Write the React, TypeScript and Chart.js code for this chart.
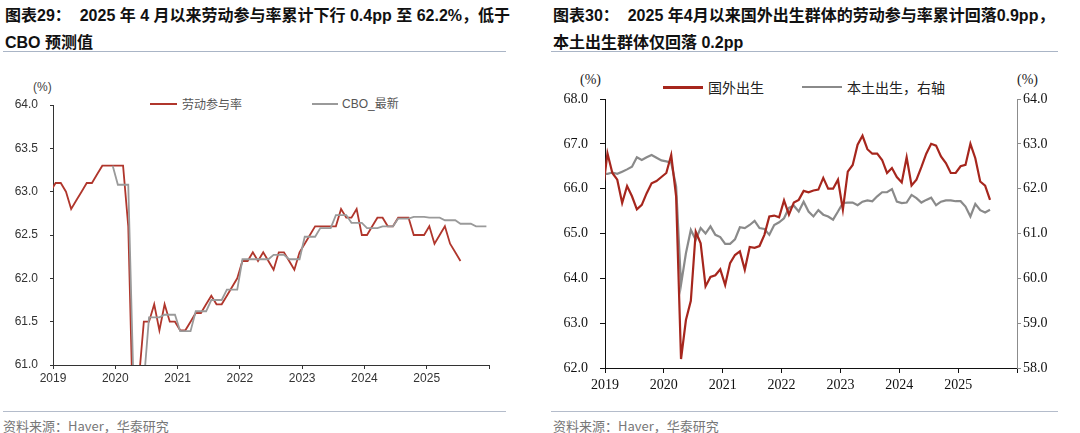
import React, { useEffect, useRef } from "react";
import { Chart, registerables } from "chart.js";

Chart.register(...registerables);

// ---------- Left chart data (图表29) ----------
const lfprStart = "2018-12";
const lfpr = [
  63.0,
  63.1, 63.1, 63.0, 62.8, 62.9, 63.0, 63.1, 63.1, 63.2, 63.3, 63.3, 63.3,
  63.3, 63.3, 62.6, 60.2, 60.8, 61.5, 61.5, 61.7, 61.4, 61.7, 61.5, 61.5,
  61.4, 61.4, 61.5, 61.6, 61.6, 61.7, 61.8, 61.7, 61.7, 61.8, 61.9, 62.0,
  62.2, 62.2, 62.3, 62.2, 62.3, 62.2, 62.1, 62.3, 62.3, 62.2, 62.1, 62.3,
  62.4, 62.5, 62.6, 62.6, 62.6, 62.6, 62.6, 62.8, 62.7, 62.7, 62.8, 62.5,
  62.5, 62.6, 62.7, 62.7, 62.6, 62.6, 62.7, 62.7, 62.7, 62.5, 62.5, 62.5,
  62.6, 62.4, 62.5, 62.6, 62.4, 62.3, 62.2,
];
const cboStart = "2019-12";
const cbo = [
  63.3,
  63.08, 63.08, 63.08, 60.8, 60.8, 60.8, 61.55, 61.55, 61.55, 61.58, 61.58, 61.58,
  61.39, 61.39, 61.39, 61.62, 61.62, 61.62, 61.75, 61.75, 61.75, 61.87, 61.87, 61.87,
  62.22, 62.22, 62.22, 62.22, 62.22, 62.22, 62.27, 62.27, 62.27, 62.22, 62.22, 62.22,
  62.48, 62.48, 62.48, 62.58, 62.58, 62.58, 62.73, 62.73, 62.73, 62.64, 62.64, 62.64,
  62.58, 62.58, 62.58, 62.6, 62.6, 62.6, 62.69, 62.69, 62.69, 62.71, 62.71, 62.71,
  62.7, 62.7, 62.7, 62.67, 62.67, 62.67, 62.63, 62.63, 62.63, 62.6, 62.6, 62.6,
];
const leftYTicks = { min: 61, max: 64, step: 0.5 };

// ---------- Right chart data (图表30) ----------
const bornStart = "2018-12";
const foreignBorn = [
  65.9,
  66.79, 66.35, 66.2, 65.68, 66.06, 65.83, 65.54, 65.64, 65.9, 66.12, 66.17, 66.26,
  66.35, 66.75, 65.83, 62.2, 63.07, 63.5, 65.04, 64.78, 63.82, 64.03, 64.07, 64.2,
  63.85, 64.34, 64.52, 64.6, 64.19, 64.7, 64.68, 64.72, 64.97, 65.38, 65.4, 65.36,
  65.74, 65.42, 65.69, 65.75, 65.95, 65.92, 65.96, 65.98, 66.24, 66.0, 66.0, 66.2,
  65.53, 66.38, 66.53, 66.98, 67.18, 66.88, 66.78, 66.78, 66.64, 66.35, 66.46, 66.26,
  66.14, 66.7, 66.07, 66.2, 66.48, 66.78, 67.0, 66.96, 66.72, 66.57, 66.35, 66.35,
  66.5, 66.53, 67.0, 66.68, 66.16, 66.07, 65.75,
];
const nativeBorn = [
  62.33,
  62.33, 62.36, 62.33, 62.38, 62.43, 62.49, 62.7, 62.64, 62.7, 62.75, 62.69, 62.63,
  62.61, 62.58, 62.05, 59.86, 60.56, 61.08, 60.86, 61.12, 61.0, 61.16, 60.97, 60.92,
  60.77, 60.77, 60.87, 61.14, 61.12, 61.19, 61.28, 61.12, 61.1, 60.97, 61.19, 61.25,
  61.34, 61.57, 61.62, 61.49, 61.71, 61.49, 61.38, 61.52, 61.42, 61.38, 61.31, 61.49,
  61.68, 61.69, 61.69, 61.63, 61.71, 61.74, 61.72, 61.83, 61.92, 61.92, 61.99, 61.71,
  61.68, 61.69, 61.86, 61.79, 61.69, 61.75, 61.8, 61.63, 61.71, 61.74, 61.74, 61.72,
  61.72, 61.6, 61.38, 61.66, 61.52, 61.47, 61.53,
];
const rightYLeft = { min: 62, max: 68, step: 1 };
const rightYRight = { min: 58, max: 64, step: 1 };

const xRange = { min: 2019, max: 2026 };

// ---------- helpers ----------
function monthsFrom(start: string, n: number): string[] {
  const [y0, m0] = start.split("-").map(Number);
  const base = y0 * 12 + (m0 - 1);
  return Array.from({ length: n }, (_, k) => {
    const t = base + k;
    return `${Math.floor(t / 12)}-${String((t % 12) + 1).padStart(2, "0")}`;
  });
}
function toX(ym: string): number {
  const [y, m] = ym.split("-").map(Number);
  return y + (m - 0.5) / 12;
}
function series(start: string, values: number[]) {
  const months = monthsFrom(start, values.length);
  return values.map((v, k) => ({ x: toX(months[k]), y: v }));
}

const RED_L = "#b0362c";
const GRAY_L = "#9a9a9a";
const RED_R = "#a6261d";
const GRAY_R = "#8a8a8a";

function leftConfig(): any {
  const sans = "'Liberation Sans', Arial, sans-serif";
  return {
    type: "line",
    data: {
      datasets: [
        {
          label: "劳动参与率",
          data: series(lfprStart, lfpr),
          borderColor: RED_L,
          borderWidth: 1.8,
          pointRadius: 0,
          tension: 0,
          order: 1,
        },
        {
          label: "CBO_最新",
          data: series(cboStart, cbo),
          borderColor: GRAY_L,
          borderWidth: 1.8,
          pointRadius: 0,
          tension: 0,
          order: 0,
        },
      ],
    },
    options: {
      responsive: false,
      animation: false,
      layout: { padding: { top: 45, right: 51, left: 0, bottom: 0 } },
      plugins: { legend: { display: false }, tooltip: { enabled: false } },
      scales: {
        x: {
          type: "linear",
          min: xRange.min,
          max: xRange.max,
          ticks: {
            stepSize: 1,
            autoSkip: false,
            maxRotation: 0,
            padding: 2,
            color: "#333",
            font: { family: sans, size: 12 },
            callback: (v: number) => (v < xRange.max ? String(Math.round(v)) : ""),
          },
          grid: { drawOnChartArea: false, drawTicks: true, tickLength: 4, color: "#333", lineWidth: 1 },
          border: { display: true, color: "#333", width: 1 },
          afterFit: (s: any) => {
            s.height = 35;
          },
        },
        y: {
          type: "linear",
          min: leftYTicks.min,
          max: leftYTicks.max,
          ticks: {
            stepSize: leftYTicks.step,
            padding: 12,
            color: "#333",
            font: { family: sans, size: 12 },
            callback: (v: number) => v.toFixed(1),
          },
          grid: { drawOnChartArea: false, drawTicks: true, tickLength: 3, color: "#333", lineWidth: 1 },
          border: { display: true, color: "#333", width: 1 },
          afterFit: (s: any) => {
            s.width = 53;
          },
        },
      },
    },
  };
}

function rightConfig(): any {
  const serif = "'Liberation Serif', 'Times New Roman', serif";
  return {
    type: "line",
    data: {
      datasets: [
        {
          label: "国外出生",
          data: series(bornStart, foreignBorn),
          borderColor: RED_R,
          borderWidth: 2.2,
          pointRadius: 0,
          tension: 0,
          yAxisID: "y",
          order: 0,
        },
        {
          label: "本土出生，右轴",
          data: series(bornStart, nativeBorn),
          borderColor: GRAY_R,
          borderWidth: 2.2,
          pointRadius: 0,
          tension: 0,
          yAxisID: "y1",
          order: 1,
        },
      ],
    },
    options: {
      responsive: false,
      animation: false,
      layout: { padding: { top: 39, right: 0, left: 0, bottom: 0 } },
      plugins: { legend: { display: false }, tooltip: { enabled: false } },
      scales: {
        x: {
          type: "linear",
          min: xRange.min,
          max: xRange.max,
          ticks: {
            stepSize: 1,
            autoSkip: false,
            maxRotation: 0,
            padding: 4,
            color: "#111",
            font: { family: serif, size: 14 },
            callback: (v: number) => (v < xRange.max ? String(Math.round(v)) : ""),
          },
          grid: { drawOnChartArea: false, drawTicks: true, tickLength: 5, color: "#111", lineWidth: 1 },
          border: { display: true, color: "#111", width: 1 },
          afterFit: (s: any) => {
            s.height = 32;
          },
        },
        y: {
          type: "linear",
          position: "left",
          min: rightYLeft.min,
          max: rightYLeft.max,
          ticks: {
            stepSize: rightYLeft.step,
            padding: 12,
            color: "#111",
            font: { family: serif, size: 14 },
            callback: (v: number) => v.toFixed(1),
          },
          grid: { drawOnChartArea: false, drawTicks: true, tickLength: 5, color: "#111", lineWidth: 1 },
          border: { display: true, color: "#111", width: 1 },
          afterFit: (s: any) => {
            s.width = 60;
          },
        },
        y1: {
          type: "linear",
          position: "right",
          min: rightYRight.min,
          max: rightYRight.max,
          ticks: {
            stepSize: rightYRight.step,
            padding: 2,
            color: "#111",
            font: { family: serif, size: 14 },
            callback: (v: number) => v.toFixed(1),
          },
          grid: { drawOnChartArea: false, drawTicks: true, tickLength: 4, color: "#8c8c8c", lineWidth: 1 },
          border: { display: true, color: "#8c8c8c", width: 1 },
          afterFit: (s: any) => {
            s.width = 63;
          },
        },
      },
    },
  };
}

function ChartCanvas(props: { left: number; top: number; width: number; height: number; build: () => any }) {
  const ref = useRef<HTMLCanvasElement>(null);
  useEffect(() => {
    if (!ref.current) return;
    const chart = new Chart(ref.current, props.build());
    return () => chart.destroy();
  }, []);
  return (
    <canvas
      ref={ref}
      width={props.width}
      height={props.height}
      style={{ position: "absolute", left: props.left, top: props.top, width: props.width, height: props.height }}
    />
  );
}

const abs = (o: React.CSSProperties): React.CSSProperties => ({ position: "absolute", whiteSpace: "pre", ...o });

const titleFont = "'Liberation Sans', 'Noto Sans CJK SC', sans-serif";
const cjk = "'Noto Sans CJK SC', sans-serif";
const serifCjk = "'Liberation Serif', 'Noto Sans CJK SC', serif";

export default function App() {
  const titleStyle: React.CSSProperties = {
    fontFamily: titleFont,
    fontWeight: 700,
    fontSize: 16,
    lineHeight: "27px",
    color: "#111",
  };
  return (
    <div style={{ position: "absolute", left: 0, top: 0, width: 1080, height: 433, background: "#fff", overflow: "hidden" }}>
      {/* Left panel */}
      <div style={abs({ left: 5, top: 2, ...titleStyle })}>
        {"图表29：  2025 年 4 月以来劳动参与率累计下行 0.4pp 至 62.2%，低于\nCBO 预测值"}
      </div>
      <div style={abs({ left: 3, top: 51, width: 503, height: 1, background: "#aab5c6" })} />
      <div style={abs({ left: 33, top: 78, fontFamily: "'Liberation Sans', sans-serif", fontSize: 12, lineHeight: "18px", color: "#444" })}>
        {"(%)"}
      </div>
      <div style={abs({ left: 150, top: 103, width: 27, height: 2, background: RED_L })} />
      <div style={abs({ left: 182, top: 94, fontFamily: cjk, fontSize: 12, lineHeight: "20px", color: "#555" })}>劳动参与率</div>
      <div style={abs({ left: 312, top: 103, width: 26, height: 2, background: GRAY_L })} />
      <div style={abs({ left: 342, top: 94, fontFamily: "'Liberation Sans', 'Noto Sans CJK SC', sans-serif", fontSize: 12, lineHeight: "20px", color: "#555" })}>
        CBO_最新
      </div>
      <ChartCanvas left={0} top={60} width={540} height={340} build={leftConfig} />
      <div style={abs({ left: 3, top: 411, width: 503, height: 1, background: "#b4bccb" })} />
      <div style={abs({ left: 3, top: 417, fontFamily: cjk, fontSize: 13, lineHeight: "18px", color: "#777" })}>
        资料来源：Haver，华泰研究
      </div>

      {/* Right panel */}
      <div style={abs({ left: 553, top: 2, ...titleStyle })}>
        {"图表30：  2025 年4月以来国外出生群体的劳动参与率累计回落0.9pp，\n本土出生群体仅回落 0.2pp"}
      </div>
      <div style={abs({ left: 551, top: 51, width: 507, height: 1, background: "#aab5c6" })} />
      <div style={abs({ left: 580, top: 70, fontFamily: serifCjk, fontSize: 14, lineHeight: "20px", color: "#222" })}>{"(%)"}</div>
      <div style={abs({ left: 1017, top: 70, fontFamily: serifCjk, fontSize: 14, lineHeight: "20px", color: "#222" })}>{"(%)"}</div>
      <div style={abs({ left: 663, top: 86, width: 40, height: 3, background: RED_R })} />
      <div style={abs({ left: 708, top: 77, fontFamily: cjk, fontSize: 14, lineHeight: "20px", color: "#222" })}>国外出生</div>
      <div style={abs({ left: 802, top: 86, width: 40, height: 2, background: GRAY_R })} />
      <div style={abs({ left: 847, top: 77, fontFamily: cjk, fontSize: 14, lineHeight: "20px", color: "#222" })}>本土出生，右轴</div>
      <ChartCanvas left={545} top={60} width={535} height={340} build={rightConfig} />
      <div style={abs({ left: 551, top: 411, width: 507, height: 1, background: "#b4bccb" })} />
      <div style={abs({ left: 553, top: 417, fontFamily: cjk, fontSize: 13, lineHeight: "18px", color: "#777" })}>
        资料来源：Haver，华泰研究
      </div>
    </div>
  );
}
